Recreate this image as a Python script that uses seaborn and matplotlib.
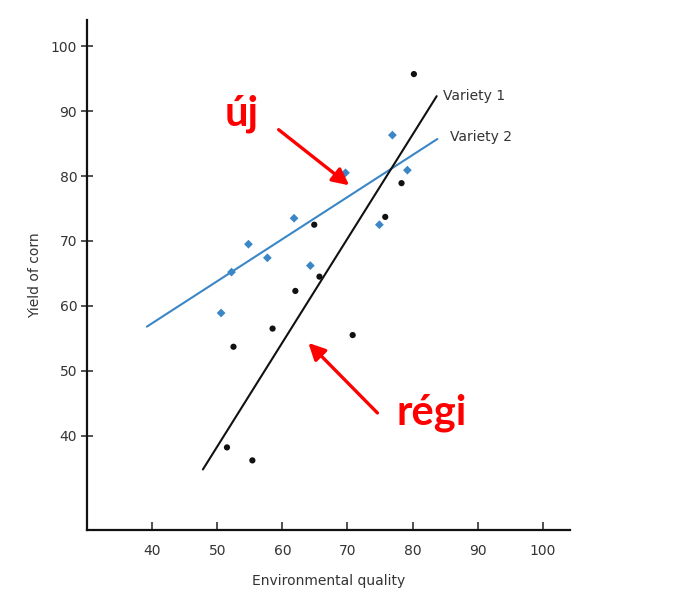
import matplotlib
matplotlib.use("Agg")
import matplotlib.pyplot as plt
import seaborn as sns
import pandas as pd

# Observed yields for each corn variety
variety1_quality = [80.2, 78.3, 75.8, 64.9, 65.7, 62.0, 58.5, 52.5, 70.8, 51.5, 55.4]
variety1_yield = [95.7, 78.9, 73.7, 72.5, 64.5, 62.3, 56.5, 53.7, 55.5, 38.2, 36.2]

variety2_quality = [76.9, 69.7, 79.2, 74.9, 61.8, 54.8, 57.7, 52.2, 64.3, 50.6]
variety2_yield = [86.3, 80.5, 80.9, 72.5, 73.5, 69.5, 67.4, 65.2, 66.2, 58.9]

# Fitted response lines (end points)
fit1_quality = [47.8, 83.7]
fit1_yield = [34.8, 92.3]
fit2_quality = [39.2, 83.8]
fit2_yield = [56.8, 85.7]

x_ticks = [40, 50, 60, 70, 80, 90, 100]
y_ticks = [40, 50, 60, 70, 80, 90, 100]

blue = "#3b86c6"
black = "#111111"

sns.set_style("white")
plt.rcParams["font.family"] = ["DejaVu Sans"]

fig = plt.figure(figsize=(6.74, 5.94), dpi=100)
ax = fig.add_axes([0.129, 0.108, 0.717, 0.858])

pts1 = pd.DataFrame({"quality": variety1_quality, "yield": variety1_yield})
pts2 = pd.DataFrame({"quality": variety2_quality, "yield": variety2_yield})
line1 = pd.DataFrame({"quality": fit1_quality, "yield": fit1_yield})
line2 = pd.DataFrame({"quality": fit2_quality, "yield": fit2_yield})

sns.lineplot(data=line2, x="quality", y="yield", color=blue, lw=1.5, ax=ax)
sns.lineplot(data=line1, x="quality", y="yield", color=black, lw=1.5, ax=ax)
sns.scatterplot(data=pts2, x="quality", y="yield", color=blue, s=20,
                marker="D", edgecolor="none", ax=ax)
sns.scatterplot(data=pts1, x="quality", y="yield", color=black, s=20,
                edgecolor="none", ax=ax)

ax.text(fit1_quality[1] + 1.0, fit1_yield[1], "Variety 1", fontsize=10,
        color="#333333", va="center", ha="left")
ax.text(fit2_quality[1] + 2.0, fit2_yield[1] + 0.3, "Variety 2", fontsize=10,
        color="#333333", va="center", ha="left")

# Red call-outs for the new and old varieties
arrow_style = dict(arrowstyle="-|>,head_length=1.0,head_width=0.5",
                   color="#ff0000", lw=2.4)
ax.annotate("", xy=(70.6, 78.3), xytext=(59.1, 87.4), arrowprops=arrow_style)
ax.text(53.8, 89.6, "új", color="#ff0000", fontsize=30, fontweight="bold",
        ha="center", va="center", family=["Lato", "DejaVu Sans"])
ax.annotate("", xy=(63.7, 54.6), xytext=(74.9, 43.2), arrowprops=arrow_style)
ax.text(82.9, 43.6, "régi", color="#ff0000", fontsize=30, fontweight="bold",
        ha="center", va="center", family=["Lato", "DejaVu Sans"])

ax.set_xlim(30, 104.2)
ax.set_ylim(25.5, 104)
ax.set_xticks(x_ticks)
ax.set_yticks(y_ticks)
ax.set_xticklabels([str(v) for v in x_ticks])
ax.set_yticklabels([str(v) for v in y_ticks])
ax.tick_params(axis="x", bottom=True, direction="in", length=6, width=1.2,
               colors="#333333", labelsize=10, pad=10)
ax.tick_params(axis="y", left=True, direction="inout", length=8, width=1.2,
               colors="#333333", labelsize=10, pad=3)
ax.set_xlabel("Environmental quality", fontsize=10, color="#333333", labelpad=12)
ax.set_ylabel("Yield of corn", fontsize=10, color="#333333", labelpad=6)

sns.despine(ax=ax)
for side in ("left", "bottom"):
    ax.spines[side].set_linewidth(1.6)
    ax.spines[side].set_color("#111111")

fig.savefig("out.png", dpi=100, facecolor="white")
